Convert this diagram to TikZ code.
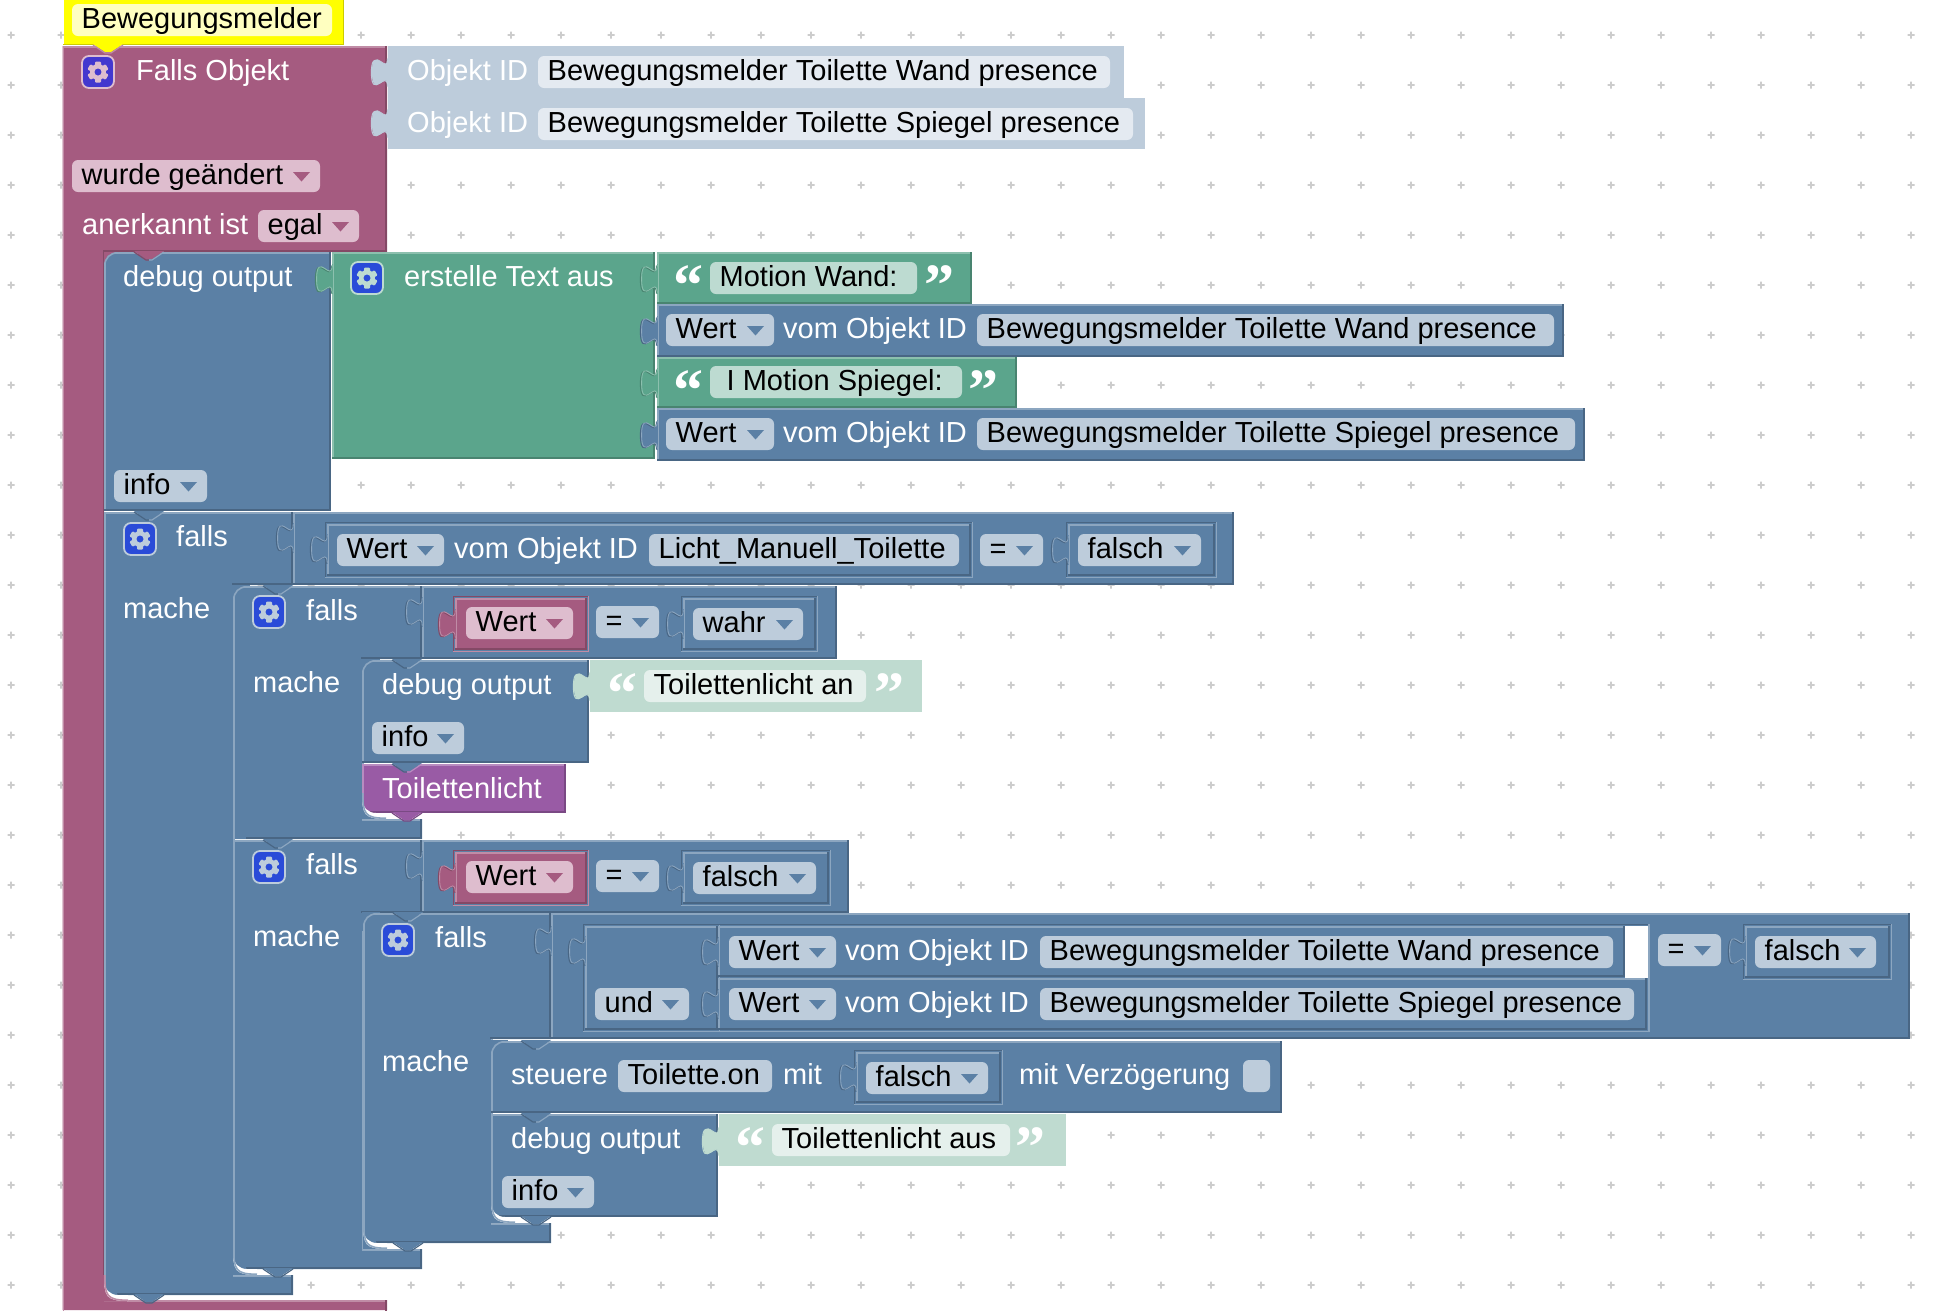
\documentclass[tikz,border=0pt]{standalone}
\usepackage{fontspec}
\setmainfont{Liberation Sans}
\newfontfamily\quotefont{Liberation Serif}
\definecolor{griddot}{HTML}{CCCCCC}
\definecolor{plumfill}{HTML}{A55B80}
\definecolor{plumlite}{HTML}{C08CA6}
\definecolor{plumdark}{HTML}{844966}
\definecolor{plumfield}{HTML}{DEBDCE}
\definecolor{bluefill}{HTML}{5B80A5}
\definecolor{bluelite}{HTML}{8CA6C0}
\definecolor{bluedark}{HTML}{496684}
\definecolor{bluefield}{HTML}{BDCCDB}
\definecolor{greenfill}{HTML}{5BA58C}
\definecolor{greenlite}{HTML}{8CC0AE}
\definecolor{greendark}{HTML}{498470}
\definecolor{greenfield}{HTML}{BDDBD1}
\definecolor{palebluefill}{HTML}{BDCCDB}
\definecolor{palebluelite}{HTML}{BDCCDB}
\definecolor{palebluedark}{HTML}{BDCCDB}
\definecolor{palebluefield}{HTML}{E4EAF1}
\definecolor{palegreenfill}{HTML}{BFDBD0}
\definecolor{palegreenlite}{HTML}{BFDBD0}
\definecolor{palegreendark}{HTML}{BFDBD0}
\definecolor{palegreenfield}{HTML}{E5F0EC}
\definecolor{purplefill}{HTML}{995BA5}
\definecolor{purplelite}{HTML}{B88CC0}
\definecolor{purpledark}{HTML}{7A4984}
\definecolor{iconplum}{HTML}{4338CF}
\definecolor{iconblue}{HTML}{2A4BD8}
\definecolor{notefill}{HTML}{FFFF00}
\definecolor{notefield}{HTML}{FFFFC0}
\definecolor{notedark}{HTML}{CCCC00}
\tikzset{
  edge/.style={line width=1.6pt, line cap=rect},
  txt/.style={anchor=base west, inner sep=0pt, font=\fontsize{29}{29}\selectfont},
  quotemark/.style={anchor=base, inner sep=0pt, font=\quotefont\bfseries\fontsize{60}{60}\selectfont},
}
% one rectangular block with its light and dark edges
\newcommand{\blockbox}[5]{%
  \fill[#1fill] (#2,#3) rectangle (#4,#5);
  \draw[edge,draw=#1lite] (#2+.8,#5-.8) -- (#2+.8,#3+.8) -- (#4-.8,#3+.8);
  \draw[edge,draw=#1dark] (#4-.8,#3+.8) -- (#4-.8,#5-.8) -- (#2+.8,#5-.8);}
% value block sitting in a socket of a block of the same colour
\newcommand{\insetbox}[5]{%
  \draw[edge,draw=#1dark] (#2-1.5,#5+1.5) -- (#2-1.5,#3-1.5) -- (#4+1.5,#3-1.5);
  \draw[edge,draw=#1lite] (#4+1.5,#3-1.5) -- (#4+1.5,#5+1.5) -- (#2-1.5,#5+1.5);
  \blockbox{#1}{#2}{#3}{#4}{#5}}
% C shaped statement block
\newcommand{\cblock}[7]{%
  \fill[bluefill] (#1,#2) -- (#3,#2) -- (#3,#4) -- (#5,#4) -- (#5,#6) -- (#3,#6) -- (#3,#7) -- (#1,#7) -- cycle;
  \draw[edge,draw=bluelite] (#1+.8,#7-.8) -- (#1+.8,#2+.8) -- (#3-.8,#2+.8);
  \draw[edge,draw=bluelite] (#5+.8,#4) -- (#5+.8,#6+.8) -- (#3-.8,#6+.8);
  \draw[edge,draw=bluedark] (#3-.8,#2+.8) -- (#3-.8,#4-.8) -- (#5,#4-.8);
  \draw[edge,draw=bluedark] (#3-.8,#6+.8) -- (#3-.8,#7-.8) -- (#1+14,#7-.8);}
\newcommand{\cornerTL}[3]{%
  \fill[#3] (#1,#2+14) .. controls (#1,#2+6) and (#1+6,#2) .. (#1+14,#2) -- (#1,#2) -- cycle;
  \draw[edge,line cap=butt,draw=bluelite] (#1+.8,#2+14) .. controls (#1+.8,#2+6) and (#1+6,#2+.8) .. (#1+14,#2+.8);}
% rounded lower left corner: white wedge, then the parent's colour around it
\newcommand{\cornerBL}[4]{%
  \fill[white] (#1,#2-14) .. controls (#1,#2-6) and (#1+6,#2) .. (#1+14,#2) -- (#1+24,#2) -- (#1+24,#2+6) -- (#1,#2+6) -- cycle;
  \fill[#3] (#1,#2-20) .. controls (#1,#2+2) and (#1+2,#2+6) .. (#1+24,#2+6) -- (#1,#2+6) -- cycle;
  \draw[edge,line cap=butt,draw=#4] (#1+.8,#2-20) .. controls (#1+.8,#2+1) and (#1+3,#2+5.2) .. (#1+24,#2+5.2);}
% connector notch and puzzle tab
\newcommand{\notch}[5]{%
  \fill[#3] (#1+30,#2-1) -- (#1+42,#2+7) -- (#1+48,#2+7) -- (#1+60,#2-1) -- cycle;
  \draw[line width=1.2pt,draw=#4] (#1+30,#2) -- (#1+42,#2+8) -- (#1+45,#2+8);
  \draw[line width=1.2pt,draw=#5] (#1+45,#2+8) -- (#1+48,#2+8) -- (#1+60,#2);}
\newcommand{\tabshape}[3]{%
  \begin{scope}[shift={(#1,#2)}]
    \fill[#3fill] (0.8,-1) -- (0,0) .. controls (0,19) and (-16,-15) .. (-16,14) .. controls (-16,43) and (0,9) .. (0,28) -- (0.8,29) -- cycle;
    \draw[line width=1pt,draw=#3dark] (-.6,.6) .. controls (-.6,19.6) and (-16.6,-14.4) .. (-16.6,14.6) .. controls (-16.6,43.6) and (-.6,9.6) .. (-.6,28.6);
    \draw[line width=.8pt,draw=#3lite] (.2,0) .. controls (.2,19) and (-15.4,-15) .. (-15.4,14) .. controls (-15.4,43) and (.2,9) .. (.2,28);
  \end{scope}}
% texts and fields
\newcommand{\lbl}[4]{\node[txt,text=#3] (lbl#1-#2) at (#1-1,#2-.7) {#4};}
\newcommand{\field}[5]{%
  \fill[#4,rounded corners=6pt] (#1,#3) rectangle (#2,#3+32);
  \node[txt,text=black] (fld#1-#3) at (#1+9.5,#3+24.5) {#5};}
\newcommand{\dropdown}[5]{%
  \field{#1}{#2}{#3}{#4field}{#5}
  \fill[#4fill] (#2-27,#3+12) -- (#2-10,#3+12) -- (#2-18.5,#3+21.5) -- cycle;}
\newcommand{\gearicon}[4]{%
  \fill[#3,draw=#4,line width=1.8pt,rounded corners=7pt] (#1-16,#2-16) rectangle (#1+16,#2+16);
  \foreach \a in {0,60,...,300}
    \fill[#4,rotate around={\a:(#1,#2)},rounded corners=1pt] (#1-3,#2-10.5) rectangle (#1+3,#2-5);
  \fill[#4,even odd rule] (#1,#2) circle (8) (#1,#2) circle (3.6);}
\newcommand{\quoteopen}[3]{\node[quotemark,text=#3] (qo#1-#2) at (#1,#2) {“};}
\newcommand{\quoteclose}[3]{\node[quotemark,text=#3] (qc#1-#2) at (#1,#2) {”};}

\begin{document}
\begin{tikzpicture}[x=1pt,y=-1pt]
  \useasboundingbox (0,0) rectangle (1952,1310);
  \fill[white] (0,0) rectangle (1952,1310);
  \foreach \x in {11,61,...,1911}
    \foreach \y in {35,85,...,1285}
      \fill[griddot] (\x-.8,\y-3.5) rectangle (\x+.8,\y+3.5) (\x-3.5,\y-.8) rectangle (\x+3.5,\y+.8);

  % event block
  \fill[plumfill] (62.5,46) -- (387,46) -- (387,252) -- (104,252) -- (104,1300) -- (387,1300) -- (387,1310) -- (62.5,1310) -- cycle;
  \draw[edge,draw=plumlite] (63.3,1310) -- (63.3,46.8) -- (386.2,46.8);
  \draw[edge,draw=plumdark] (386.2,46.8) -- (386.2,251.2) -- (104,251.2);
  \draw[line width=.8pt,draw=plumdark] (103.6,252) -- (103.6,1275);
  \draw[edge,draw=plumlite] (128,1300.8) -- (386.2,1300.8);
  \draw[edge,draw=plumdark] (386.2,1300.8) -- (386.2,1310);
  \fill[notefill] (64,0) rectangle (344,45);
  \draw[edge,draw=notedark] (64,44.5) -- (343.5,44.5) -- (343.5,0);
  \notch{63}{45}{notefill}{plumlite}{plumlite}
  \field{72}{332}{4}{notefield}{Bewegungsmelder}
  \gearicon{98}{72}{iconplum}{plumfield}
  \lbl{137}{81}{white}{Falls Objekt}
  \blockbox{paleblue}{388}{46}{1124}{98}
  \blockbox{paleblue}{388}{98}{1145}{149}
  \tabshape{388}{58}{paleblue}
  \tabshape{388}{109}{paleblue}
  \lbl{408}{81}{white}{Objekt ID}
  \lbl{408}{133}{white}{Objekt ID}
  \field{538}{1110}{56}{palebluefield}{Bewegungsmelder Toilette Wand presence}
  \field{538}{1133}{108}{palebluefield}{Bewegungsmelder Toilette Spiegel presence}
  \dropdown{72}{320}{160}{plum}{wurde geändert}
  \lbl{83}{235}{white}{anerkannt ist}
  \dropdown{258}{359}{210}{plum}{egal}

  % first debug block with its text join
  \blockbox{blue}{104}{252}{331}{511}
  \cornerTL{104}{252}{plumfill}
  \notch{104}{252}{plumfill}{plumdark}{bluelite}
  \lbl{124}{287}{white}{debug output}
  \dropdown{114}{207}{470}{blue}{info}
  \blockbox{green}{332}{252}{655}{459}
  \tabshape{332}{265}{green}
  \gearicon{367}{278}{iconblue}{greenfield}
  \lbl{405}{287}{white}{erstelle Text aus}
  \blockbox{green}{657}{252}{972}{304}
  \blockbox{blue}{657}{304}{1564}{357}
  \blockbox{green}{657}{357}{1017}{408}
  \blockbox{blue}{657}{408}{1585}{461}
  \tabshape{657}{265}{green}
  \tabshape{657}{317}{blue}
  \tabshape{657}{369}{green}
  \tabshape{657}{421}{blue}
  \quoteopen{688}{305}{white}
  \field{710}{917}{262}{greenfield}{Motion Wand:}
  \quoteclose{939}{305}{white}
  \quoteopen{688}{410}{white}
  \field{710}{962}{366}{greenfield}{\hspace*{7pt}I Motion Spiegel:}
  \quoteclose{983}{410}{white}
  \dropdown{666}{774}{314}{blue}{Wert}
  \lbl{784}{339}{white}{vom Objekt ID}
  \field{977}{1554}{314}{bluefield}{Bewegungsmelder Toilette Wand presence}
  \dropdown{666}{774}{418}{blue}{Wert}
  \lbl{784}{443}{white}{vom Objekt ID}
  \field{977}{1575}{418}{bluefield}{Bewegungsmelder Toilette Spiegel presence}

  % outer falls
  \cblock{104}{512}{293}{585}{233}{1275}{1295}
  \cornerBL{104}{1295}{plumfill}{plumlite}
  \notch{104}{512}{bluefill}{bluedark}{bluelite}
  \notch{104}{1295}{bluefill}{bluedark}{bluedark}
  \gearicon{140}{539}{iconblue}{bluefield}
  \lbl{177}{547}{white}{falls}
  \lbl{124}{619}{white}{mache}
  \blockbox{blue}{293}{512}{1234}{585}
  \tabshape{293}{524}{blue}
  \insetbox{blue}{327}{524}{971}{576}
  \tabshape{327}{535}{blue}
  \dropdown{337}{444}{534}{blue}{Wert}
  \lbl{455}{559}{white}{vom Objekt ID}
  \field{649}{959}{534}{bluefield}{Licht\_Manuell\_Toilette}
  \dropdown{980}{1043}{534}{blue}{=}
  \insetbox{blue}{1068}{524}{1215}{576}
  \tabshape{1068}{536}{blue}
  \dropdown{1078}{1201}{534}{blue}{falsch}

  % falls wahr
  \fill[bluefill] (233,585) rectangle (250,603);
  \cblock{233}{586}{422}{659}{362}{819}{839}
  \cornerTL{233}{586}{bluefill}
  \notch{233}{586}{bluefill}{bluedark}{bluelite}
  \gearicon{269}{612}{iconblue}{bluefield}
  \lbl{307}{621}{white}{falls}
  \lbl{254}{693}{white}{mache}
  \blockbox{blue}{422}{586}{837}{659}
  \tabshape{422}{598}{blue}
  \insetbox{plum}{455}{598}{587}{650}
  \tabshape{455}{610}{plum}
  \dropdown{466}{573}{607}{plum}{Wert}
  \dropdown{596}{659}{606}{blue}{=}
  \insetbox{blue}{683}{598}{816}{650}
  \tabshape{683}{610}{blue}
  \dropdown{693}{803}{608}{blue}{wahr}

  % debug output and function call
  \fill[bluefill] (362,659) rectangle (380,678);
  \blockbox{blue}{362}{660}{589}{763}
  \cornerTL{362}{660}{bluefill}
  \notch{362}{660}{bluefill}{bluedark}{bluelite}
  \lbl{383}{695}{white}{debug output}
  \blockbox{palegreen}{590}{660}{922}{712}
  \tabshape{590}{672}{palegreen}
  \quoteopen{622}{713}{white}
  \field{644}{866}{670}{palegreenfield}{Toilettenlicht an}
  \quoteclose{889}{713}{white}
  \dropdown{372}{464}{722}{blue}{info}
  \blockbox{purple}{362}{764}{566}{813}
  \cornerBL{362}{813}{bluefill}{bluelite}
  \notch{362}{764}{bluefill}{bluedark}{purplelite}
  \notch{362}{813}{purplefill}{purpledark}{purpledark}
  \lbl{383}{799}{white}{Toilettenlicht}

  % falls falsch
  \cblock{233}{840}{422}{913}{362}{1249}{1269}
  \cornerBL{233}{1269}{bluefill}{bluelite}
  \notch{233}{840}{bluefill}{bluedark}{bluelite}
  \notch{233}{1269}{bluefill}{bluedark}{bluedark}
  \gearicon{269}{867}{iconblue}{bluefield}
  \lbl{307}{875}{white}{falls}
  \lbl{254}{947}{white}{mache}
  \blockbox{blue}{422}{840}{849}{913}
  \tabshape{422}{852}{blue}
  \insetbox{plum}{455}{852}{587}{904}
  \tabshape{455}{864}{plum}
  \dropdown{466}{573}{861}{plum}{Wert}
  \dropdown{596}{659}{860}{blue}{=}
  \insetbox{blue}{683}{852}{829}{904}
  \tabshape{683}{864}{blue}
  \dropdown{693}{816}{862}{blue}{falsch}

  % inner falls with und
  \fill[bluefill] (362,912) rectangle (380,931);
  \cblock{363}{913}{551}{1039}{491}{1223}{1243}
  \cornerTL{363}{913}{bluefill}
  \cornerBL{363}{1243}{bluefill}{bluelite}
  \notch{363}{913}{bluefill}{bluedark}{bluelite}
  \notch{363}{1243}{bluefill}{bluedark}{bluedark}
  \gearicon{398}{940}{iconblue}{bluefield}
  \lbl{436}{948}{white}{falls}
  \lbl{383}{1072}{white}{mache}
  \blockbox{blue}{551}{913}{1910}{1039}
  \tabshape{551}{927}{blue}
  \fill[white] (1625,926) rectangle (1648,978);
  \insetbox{blue}{585}{926}{718}{1030}
  \tabshape{585}{937}{blue}
  \draw[edge,draw=bluedark] (718,924.5) -- (1648,924.5);
  \blockbox{blue}{718}{926}{1625}{977}
  \blockbox{blue}{718}{978}{1647}{1030}
  \draw[edge,draw=bluelite] (1649,924.5) -- (1649,1031.5) -- (585,1031.5);
  \tabshape{718}{938}{blue}
  \tabshape{718}{990}{blue}
  \dropdown{729}{836}{936}{blue}{Wert}
  \lbl{846}{961}{white}{vom Objekt ID}
  \field{1040}{1613}{936}{bluefield}{Bewegungsmelder Toilette Wand presence}
  \dropdown{595}{689}{988}{blue}{und}
  \dropdown{729}{836}{988}{blue}{Wert}
  \lbl{846}{1013}{white}{vom Objekt ID}
  \field{1040}{1634}{988}{bluefield}{Bewegungsmelder Toilette Spiegel presence}
  \dropdown{1658}{1721}{934}{blue}{=}
  \insetbox{blue}{1745}{926}{1890}{978}
  \tabshape{1745}{937}{blue}
  \dropdown{1755}{1876}{936}{blue}{falsch}

  % steuere and last debug output
  \fill[bluefill] (490,1040) rectangle (508,1058);
  \blockbox{blue}{491}{1041}{1282}{1113}
  \cornerTL{491}{1041}{bluefill}
  \notch{491}{1041}{bluefill}{bluedark}{bluelite}
  \lbl{512}{1085}{white}{steuere}
  \field{618}{772}{1060}{bluefield}{Toilette.on}
  \lbl{784}{1085}{white}{mit}
  \insetbox{blue}{856}{1052}{1001}{1103}
  \tabshape{856}{1063}{blue}
  \dropdown{866}{988}{1062}{blue}{falsch}
  \lbl{1020}{1085}{white}{mit Verzögerung}
  \field{1243}{1270}{1060}{bluefield}{}
  \blockbox{blue}{491}{1114}{718}{1217}
  \cornerBL{491}{1217}{bluefill}{bluelite}
  \notch{491}{1114}{bluefill}{bluedark}{bluelite}
  \notch{491}{1217}{bluefill}{bluedark}{bluedark}
  \lbl{512}{1149}{white}{debug output}
  \blockbox{palegreen}{719}{1114}{1066}{1166}
  \tabshape{719}{1127}{palegreen}
  \quoteopen{750}{1167}{white}
  \field{772}{1010}{1124}{palegreenfield}{Toilettenlicht aus}
  \quoteclose{1030}{1167}{white}
  \dropdown{502}{594}{1176}{blue}{info}
\end{tikzpicture}
\end{document}
